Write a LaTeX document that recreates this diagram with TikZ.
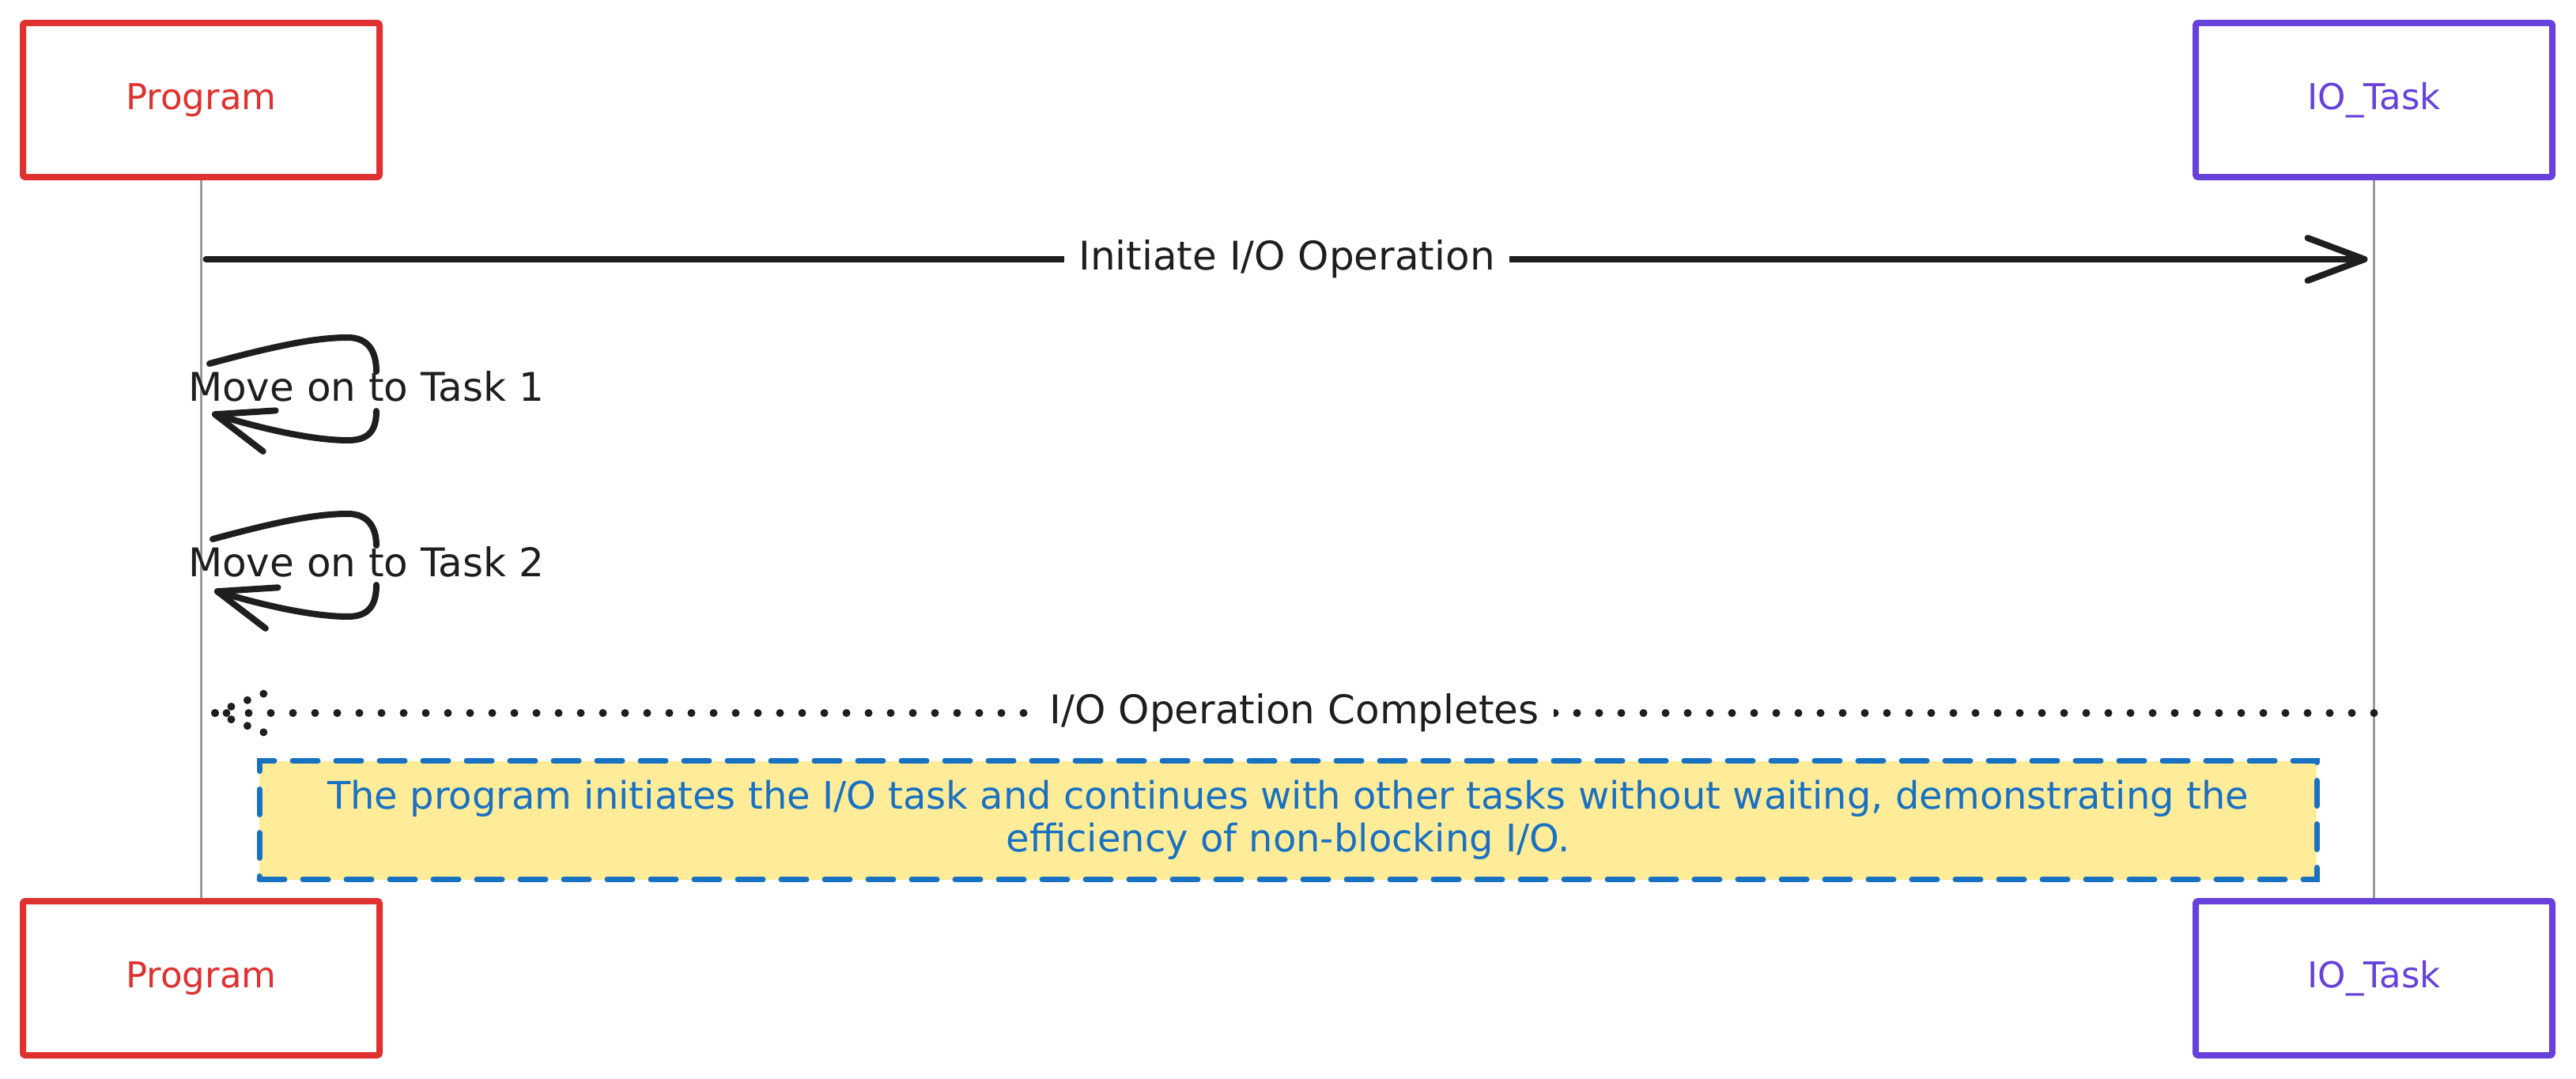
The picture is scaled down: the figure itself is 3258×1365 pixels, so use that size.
\documentclass[tikz,border=0pt]{standalone}
\usepackage{fontspec}
\setmainfont{DejaVu Sans}
\usetikzlibrary{arrows.meta,calc}
\definecolor{exred}{HTML}{E03131}
\definecolor{expurple}{HTML}{6741D9}
\definecolor{exblue}{HTML}{1971C2}
\definecolor{exyellow}{HTML}{FFEC99}
\definecolor{exink}{HTML}{1E1E1E}
\definecolor{exgray}{HTML}{9A9A9A}
\newcommand\boxfont{\fontsize{45pt}{53pt}\selectfont}
\newcommand\msgfont{\fontsize{50pt}{58pt}\selectfont}
\newcommand\notefont{\fontsize{48pt}{54pt}\selectfont}
\tikzset{
  actor/.style={draw, line width=8pt, rounded corners=3pt, fill=white,
    minimum width=451pt, minimum height=195pt, inner sep=0pt, font=\boxfont},
  lifeline/.style={draw=exgray, line width=3.5pt},
  msg/.style={draw=exink, line width=8pt, line cap=round, line join=round},
  msgtip/.style={-{Straight Barb[length=72pt,width=54pt,line width=8pt,round]}},
  dots/.style={draw=exink, line width=10pt, line cap=round, dash pattern=on 0pt off 28pt},
  barbdots/.style={draw=exink, line width=10pt, line cap=round, dash pattern=on 0pt off 22pt},
  lbl/.style={font=\msgfont, text=exink, inner sep=0pt},
  lblbg/.style={lbl, fill=white, inner xsep=18pt, inner ysep=4pt},
  notebox/.style={draw=exblue, fill=exyellow, line width=7pt, line cap=round,
    dash pattern=on 32pt off 23pt, minimum width=2602pt, minimum height=150pt,
    align=center, text=exblue, font=\notefont, inner sep=0pt}
}
\begin{document}
\begin{tikzpicture}[x=1pt,y=-1pt]
\useasboundingbox (0,0) rectangle (3258,1365);
\fill[white] (0,0) rectangle (3258,1365);

% actors
\node[actor, draw=exred, text=exred] (p1) at (254.5,126.5) {Program};
\node[actor, draw=expurple, text=expurple] (t1) at (3002.5,126.5) {IO\_Task};
\node[actor, draw=exred, text=exred] (p2) at (254.5,1237.5) {Program};
\node[actor, draw=expurple, text=expurple] (t2) at (3002.5,1237.5) {IO\_Task};

% lifelines
\draw[lifeline] (p1.south) -- (p2.north);
\draw[lifeline] (t1.south) -- (t2.north);

% message positions on lifelines
\coordinate (pA) at (254.5,328);
\coordinate (tA) at (3002.5,328);
\coordinate (pB1) at (265,460);
\coordinate (pB2) at (268,523);
\coordinate (pC1) at (269,682);
\coordinate (pC2) at (271,747);
\coordinate (pD) at (272,902);
\coordinate (tD) at (3002.5,902);

% Initiate I/O Operation
\draw[msg, msgtip] ([xshift=6pt]pA) -- node[lblbg] {Initiate I/O Operation} ([xshift=-8pt]tA);

% Move on to Task 1
\draw[msg] (pB1) .. controls (350,437) and (400,427) .. (440,427)
  .. controls (466,427) and (476,445) .. (476,470);
\draw[msg, msgtip] (476,520) .. controls (476,545) and (466,557) .. (440,557)
  .. controls (400,557) and (340,545) .. (pB2);
\node[lbl] (m1) at (463,489) {Move on to Task 1};

% Move on to Task 2
\draw[msg] (pC1) .. controls (350,660) and (400,650) .. (440,650)
  .. controls (466,650) and (476,668) .. (476,690);
\draw[msg, msgtip] (476,740) .. controls (476,766) and (466,780) .. (440,780)
  .. controls (400,780) and (340,768) .. (pC2);
\node[lbl] (m2) at (463,711) {Move on to Task 2};

% I/O Operation Completes (dotted)
\draw[dots] (tD) -- node[lblbg] {I/O Operation Completes} (pD);
\draw[barbdots] (pD) -- ++(68,-27);
\draw[barbdots] (pD) -- ++(68,27);

% note
\node[notebox] (note) at (1629,1037.5) {The program initiates the I/O task and continues with other tasks without waiting, demonstrating the\\efficiency of non-blocking I/O.};
\end{tikzpicture}
\end{document}
